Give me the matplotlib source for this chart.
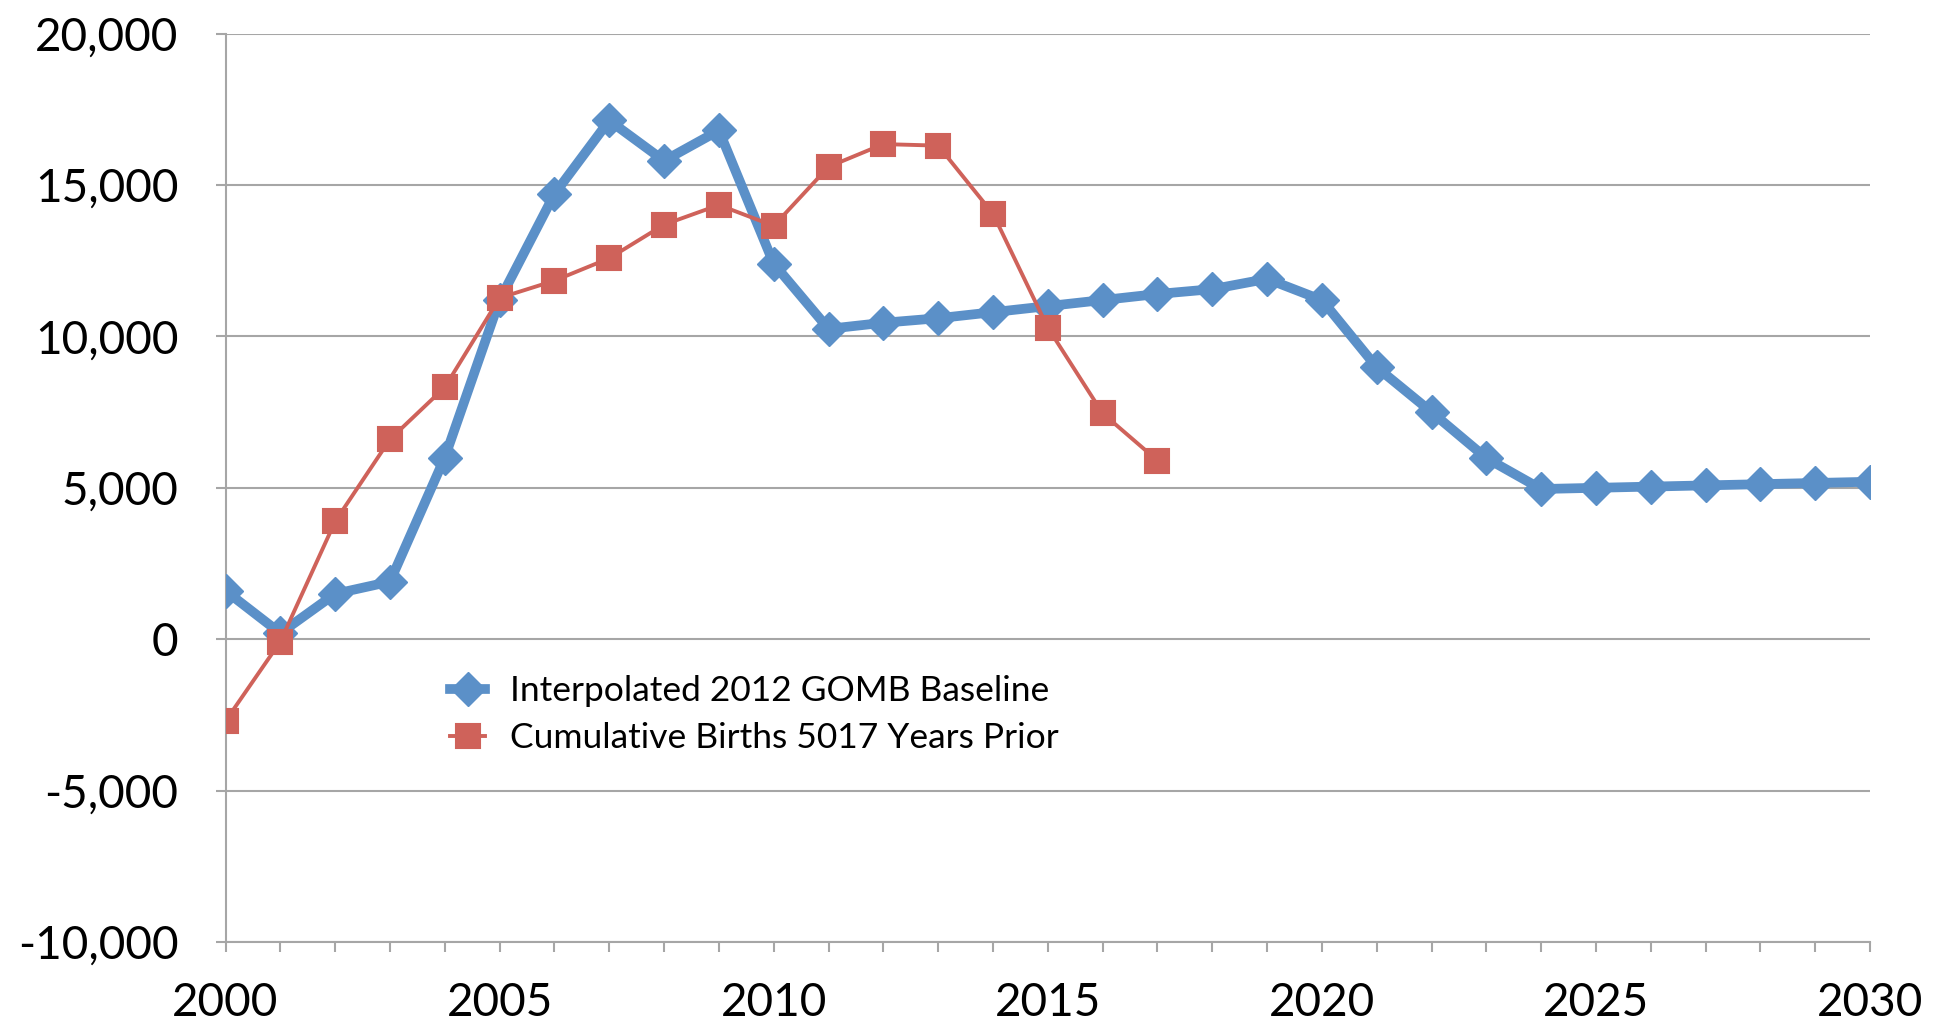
import matplotlib
matplotlib.use("Agg")
import matplotlib.pyplot as plt
from matplotlib.ticker import FuncFormatter, MultipleLocator

years_blue = list(range(2000, 2031))
baseline = [1600, 200, 1500, 1900, 6000, 11200, 14700, 17130, 15800, 16800,
            12400, 10250, 10450, 10600, 10800, 11000, 11200, 11400, 11560, 11900,
            11200, 8980, 7500, 5980, 4960, 5000, 5040, 5080, 5120, 5160, 5200]
years_red = list(range(2000, 2018))
births = [-2700, -80, 3890, 6600, 8320, 11270, 11840, 12580, 13690, 14340,
          13650, 15600, 16350, 16300, 14050, 10290, 7460, 5900]

label_blue = "Interpolated 2012 GOMB Baseline"
label_red = "Cumulative Births 5017 Years Prior"

plt.rcParams['font.family'] = ['Lato', 'DejaVu Sans']

fig = plt.figure(figsize=(19.44, 10.30), dpi=100)
ax = fig.add_axes([0.116, 0.0854, 0.846, 0.882])

blue = '#5B90C8'
red = '#CF625A'
ax.plot(years_blue, baseline, color=blue, lw=7, marker='D', ms=17,
        label=label_blue, zorder=3)
ax.plot(years_red, births, color=red, lw=2.8, marker='s', ms=17,
        markeredgewidth=1.5, markeredgecolor=red, label=label_red, zorder=4)

ax.set_xlim(2000, 2030)
ax.set_ylim(-10000, 20000)
ax.xaxis.set_major_locator(MultipleLocator(5))
ax.xaxis.set_minor_locator(MultipleLocator(1))
ax.yaxis.set_major_locator(MultipleLocator(5000))
ax.yaxis.set_major_formatter(FuncFormatter(lambda v, p: f"{int(v):,}"))

ax.grid(axis='y', color='#A6A6A6', lw=1.5)
ax.set_axisbelow(True)
for s in ['top', 'right']:
    ax.spines[s].set_visible(False)
for s in ['left', 'bottom']:
    ax.spines[s].set_color('#A6A6A6')
    ax.spines[s].set_linewidth(1.5)

ax.tick_params(axis='y', which='major', length=7, width=1.5, color='#A6A6A6',
               labelsize=33, pad=27)
ax.tick_params(axis='x', which='both', length=7, width=1.5, color='#A6A6A6',
               labelsize=33, pad=22)

ax.legend(loc='center left', bbox_to_anchor=(0.117, 0.25), frameon=False,
          fontsize=25.5, handlelength=1.0, labelspacing=0.42, handletextpad=0.7)

fig.savefig("out.png", dpi=100, facecolor='white')
